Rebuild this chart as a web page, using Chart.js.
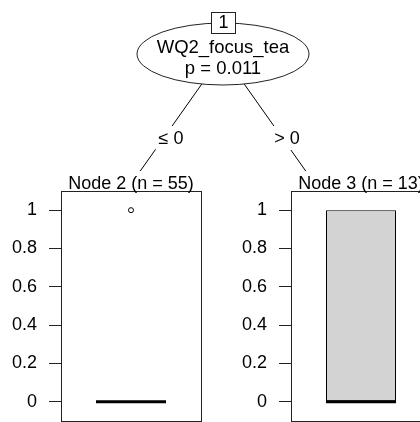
<!DOCTYPE html>
<html>
<head>
<meta charset="utf-8">
<script src="https://cdn.jsdelivr.net/npm/chart.js@4/dist/chart.umd.min.js"></script>
<style>
    html, body { margin: 0; padding: 0; background: #fff; overflow: hidden; }
    #wrap { position: relative; width: 420px; height: 422px; overflow: hidden; }
    #wrap canvas { position: absolute; top: 0; }
</style>
</head>
<body>
<div id="wrap">
    <canvas id="node2" width="420" height="422" style="left:0"></canvas>
    <canvas id="node3" width="210" height="422" style="left:230px"></canvas>
</div>
<script>
// Split node
const rootId = '1';
const splitVar = 'WQ2_focus_tea';
const splitP = 'p = 0.011';
const edgeLabels = ['\u2264 0', '> 0'];

// Terminal nodes: box statistics per node
const nodeTitles = ['Node 2 (n = 55)', 'Node 3 (n = 13)'];
const boxLower = [0, 0];
const boxUpper = [0, 1];
const medians = [0, 0];
const whiskerLow = [0, 0];
const whiskerHigh = [0, 1];
const outliers = [[1], []];

// Y axis
const yMin = -0.1;
const yMax = 1.1;
const yTicks = [0, 0.2, 0.4, 0.6, 0.8, 1];
const yTickLabels = ['0', '0.2', '0.4', '0.6', '0.8', '1'];

const FONT = '"Liberation Sans", Arial, sans-serif';
const LINE = '#222';

/**
 * Medians, whiskers, panel frame and node title
 */
const boxPanelPlugin = {
    id: 'boxPanel',
    afterDatasetsDraw(chart) {
        const i = chart.options.plugins.boxPanel.index;
        const ctx = chart.ctx;
        const y = chart.scales.y;
        const bar = chart.getDatasetMeta(0).data[0];
        const half = bar.width / 2;
        ctx.save();
        ctx.strokeStyle = '#000';
        // whiskers (dashed) and staples
        ctx.lineWidth = 1;
        ctx.setLineDash([4, 3]);
        ctx.beginPath();
        ctx.moveTo(bar.x, y.getPixelForValue(boxUpper[i]));
        ctx.lineTo(bar.x, y.getPixelForValue(whiskerHigh[i]));
        ctx.moveTo(bar.x, y.getPixelForValue(boxLower[i]));
        ctx.lineTo(bar.x, y.getPixelForValue(whiskerLow[i]));
        ctx.stroke();
        ctx.setLineDash([]);
        // median
        ctx.lineWidth = 3;
        ctx.beginPath();
        const my = y.getPixelForValue(medians[i]);
        ctx.moveTo(bar.x - half, my);
        ctx.lineTo(bar.x + half, my);
        ctx.stroke();
        ctx.restore();
    },
    afterDraw(chart) {
        const i = chart.options.plugins.boxPanel.index;
        const ctx = chart.ctx;
        const a = chart.chartArea;
        ctx.save();
        ctx.strokeStyle = LINE;
        ctx.lineWidth = 1;
        ctx.strokeRect(a.left + 0.5, a.top + 0.5, a.right - a.left, a.bottom - a.top);
        ctx.fillStyle = '#000';
        ctx.font = '18px ' + FONT;
        ctx.textAlign = 'center';
        ctx.textBaseline = 'alphabetic';
        ctx.fillText(nodeTitles[i], (a.left + a.right) / 2, a.top - 2);
        ctx.restore();
    }
};

/**
 * Split node with its two edges, drawn above the first panel
 */
const treePlugin = {
    id: 'tree',
    afterDraw(chart) {
        const ctx = chart.ctx;
        const cx = 223, cy = 54;
        const edgeEndY = 171, slope = 0.707;
        ctx.save();
        ctx.strokeStyle = '#000';
        ctx.lineWidth = 1;
        // edges
        [-1, 1].forEach(dir => {
            ctx.beginPath();
            ctx.moveTo(cx, cy);
            ctx.lineTo(cx + dir * slope * (edgeEndY - cy), edgeEndY);
            ctx.stroke();
        });
        // edge labels on white boxes
        ctx.font = '18px ' + FONT;
        ctx.textAlign = 'center';
        ctx.textBaseline = 'middle';
        [[171, edgeLabels[0]], [287, edgeLabels[1]]].forEach(([x, t]) => {
            const w = ctx.measureText(t).width + 6;
            ctx.fillStyle = '#fff';
            ctx.fillRect(x - w / 2, 126, w, 24);
            ctx.fillStyle = '#000';
            ctx.fillText(t, x, 139);
        });
        // ellipse
        ctx.beginPath();
        ctx.ellipse(cx, cy, 86, 31, 0, 0, Math.PI * 2);
        ctx.fillStyle = '#fff';
        ctx.fill();
        ctx.strokeStyle = LINE;
        ctx.stroke();
        ctx.fillStyle = '#000';
        ctx.font = '18.5px ' + FONT;
        ctx.fillText(splitVar, cx, 48);
        ctx.fillText(splitP, cx, 69);
        // id box
        ctx.fillStyle = '#fff';
        ctx.fillRect(211.5, 12.5, 24, 21);
        ctx.strokeRect(211.5, 12.5, 24, 21);
        ctx.fillStyle = '#000';
        ctx.font = '18px ' + FONT;
        ctx.fillText(rootId, 223.5, 23.5);
        ctx.restore();
    }
};

function createBoxChart(canvasId, index, padding, extraPlugins) {
    const ctx = document.getElementById(canvasId).getContext('2d');
    const label = nodeTitles[index];
    return new Chart(ctx, {
        type: 'bar',
        data: {
            labels: [label],
            datasets: [
                {
                    data: [[boxLower[index], boxUpper[index]]],
                    backgroundColor: '#d3d3d3',
                    borderColor: '#000',
                    borderWidth: 1,
                    borderSkipped: false,
                    barPercentage: 0.5,
                    categoryPercentage: 1
                },
                {
                    type: 'line',
                    data: outliers[index].map(v => ({ x: label, y: v })),
                    showLine: false,
                    pointRadius: 2.5,
                    pointBorderWidth: 1,
                    pointBorderColor: '#000',
                    pointBackgroundColor: '#fff'
                }
            ]
        },
        options: {
            responsive: false,
            animation: false,
            devicePixelRatio: 1,
            layout: { padding: padding, autoPadding: false },
            plugins: {
                legend: { display: false },
                tooltip: { enabled: false },
                boxPanel: { index: index }
            },
            scales: {
                x: { display: false },
                y: {
                    min: yMin,
                    max: yMax,
                    afterBuildTicks: scale => { scale.ticks = yTicks.map(v => ({ value: v })); },
                    afterFit: scale => {
                        scale.width = 61;
                        // tick labels sit well inside the range, no extra room needed
                        scale.paddingTop = 0;
                        scale.paddingBottom = 0;
                    },
                    border: { display: false },
                    grid: {
                        drawOnChartArea: false,
                        drawTicks: true,
                        tickLength: 12,
                        color: LINE,
                        lineWidth: 1
                    },
                    ticks: {
                        padding: 12,
                        color: '#000',
                        font: { size: 18, family: FONT },
                        callback: (v, i) => yTickLabels[i]
                    }
                }
            }
        },
        plugins: [boxPanelPlugin].concat(extraPlugins || [])
    });
}

createBoxChart('node2', 0, { left: 0, top: 191, right: 219, bottom: 1 }, [treePlugin]);
createBoxChart('node3', 1, { left: 0, top: 191, right: 9, bottom: 1 });
</script>
</body>
</html>
